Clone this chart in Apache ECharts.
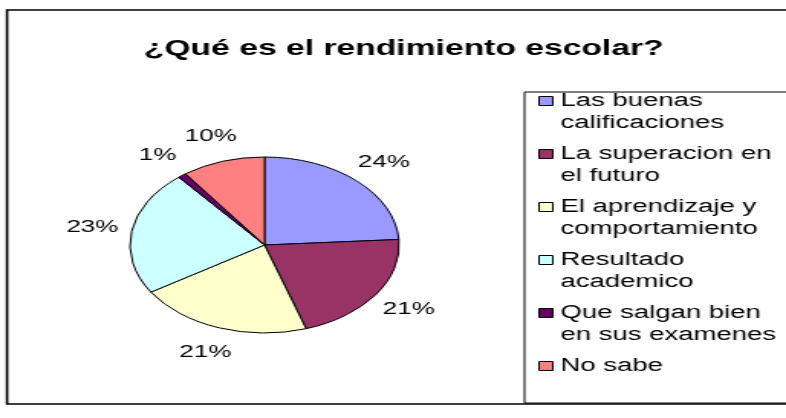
<!DOCTYPE html>
<html>
<head>
<meta charset="utf-8">
<title>¿Qué es el rendimiento escolar?</title>
<script src="https://cdn.jsdelivr.net/npm/echarts@6/dist/echarts.min.js"></script>
<style>
  html, body { margin: 0; padding: 0; background: #fff; overflow: hidden; }
  .wrap { width: 786px; height: 418px; overflow: hidden; }
  /* the original picture is stretched sideways, so the chart is drawn narrow and widened */
  #chart { width: 514px; height: 418px; transform: scaleX(1.5292); transform-origin: 0 0; }
</style>
</head>
<body>
<div class="wrap"><div id="chart"></div></div>
<script>
const categories = [
  "Las buenas calificaciones",
  "La superacion en el futuro",
  "El aprendizaje y comportamiento",
  "Resultado academico",
  "Que salgan bien en sus examenes",
  "No sabe"
]
const values = [24, 21, 21, 23, 1, 10]
const legendLines = [
  "Las buenas\ncalificaciones",
  "La superacion en\nel futuro",
  "El aprendizaje y\ncomportamiento",
  "Resultado\nacademico",
  "Que salgan bien\nen sus examenes",
  "No sabe\n"
]
const colors = ["#9999FF", "#993366", "#FFFFCC", "#CCFFFF", "#660066", "#FF8080"]

const total = values.reduce((a, b) => a + b, 0)
const cx = 173
const cy = 245
const labelR = 114
const font = "'Liberation Sans', Arial, sans-serif"

const chart = echarts.init(document.getElementById("chart"))

const options = {
  backgroundColor: "#fff",
  animation: false,
  title: {
    text: "¿Qué es el rendimiento escolar?",
    left: 264,
    top: 38,
    padding: 0,
    textAlign: "center",
    textStyle: { fontFamily: font, fontSize: 22, fontWeight: "bold", color: "#000" }
  },
  graphic: [
    {
      // outer frame
      type: "rect",
      z: -1,
      shape: { x: 4.6, y: 10, width: 520, height: 394 },
      style: { fill: "none", stroke: "#000", lineWidth: 1.6 }
    },
    {
      // legend box
      type: "rect",
      z: -1,
      shape: { x: 343, y: 92, width: 200, height: 311 },
      style: { fill: "none", stroke: "#000", lineWidth: 1 }
    }
  ],
  legend: {
    orient: "vertical",
    left: 352,
    top: 68,
    padding: 0,
    itemGap: -13,
    itemWidth: 9,
    itemHeight: 9,
    icon: "rect",
    selectedMode: false,
    itemStyle: { borderColor: "#000", borderWidth: 1 },
    textStyle: { fontFamily: font, fontSize: 18, lineHeight: 22, color: "#000" },
    data: categories,
    // a blank first line keeps the square next to the first line of text
    formatter: function (name) {
      return "\n" + legendLines[categories.indexOf(name)]
    }
  },
  series: [
    {
      type: "pie",
      center: [cx, cy],
      radius: 88,
      startAngle: 90,
      clockwise: true,
      avoidLabelOverlap: false,
      emphasis: { disabled: true },
      itemStyle: { borderColor: "#000", borderWidth: 1 },
      label: {
        show: true,
        position: "outside",
        formatter: "{d}%",
        fontFamily: font,
        fontSize: 17,
        color: "#000"
      },
      labelLine: { show: false },
      labelLayout: function (params) {
        const i = params.dataIndex
        let before = 0
        for (let k = 0; k < i; k++) before += values[k]
        const mid = ((before + values[i] / 2) / total) * Math.PI * 2
        return {
          x: cx + labelR * Math.sin(mid),
          y: cy - labelR * Math.cos(mid),
          align: "center",
          verticalAlign: "middle"
        }
      },
      data: categories.map((name, i) => ({
        name: name,
        value: values[i],
        itemStyle: { color: colors[i] }
      }))
    }
  ]
}

chart.setOption(options)
</script>
</body>
</html>
